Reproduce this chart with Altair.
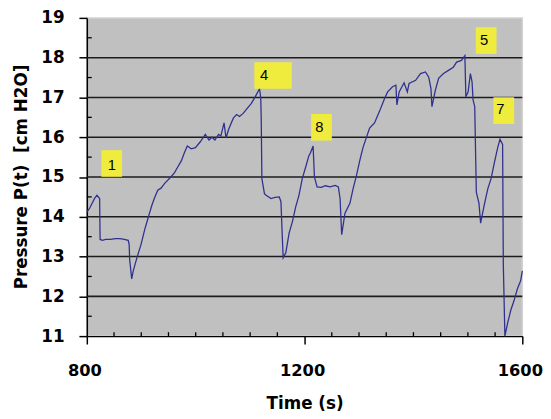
import altair as alt
import pandas as pd

# ---- data ----
time_s = [800, 805.4, 814.5, 818.6, 823.5, 824.4, 829, 834.4, 843.4, 852.5,
          861, 868.8, 876, 877.8, 878.7, 882.4, 885.1, 888.7, 894.1, 899.5,
          906.2, 910.4, 915.3, 919.5, 924.3, 930.3, 936.3, 943, 954.4, 961.1,
          966.5, 973.8, 979.2, 984.6, 991.9, 999.6, 1008.1, 1017.7, 1024.4, 1029.9,
          1035.3, 1042, 1046.2, 1052.1, 1055.7, 1060.6, 1069.1, 1075.1, 1080.5, 1087.2,
          1093.2, 1102.3, 1109.5, 1117.3, 1119.5, 1120.4, 1121.6, 1126.3, 1129.4, 1138.4,
          1145.7, 1153.5, 1156.6, 1159.3, 1160.7, 1165.6, 1171.6, 1177.7, 1183.7, 1189.7,
          1195.8, 1201.8, 1207.8, 1210.9, 1215.7, 1218.1, 1223, 1230.8, 1238, 1247.1,
          1256.1, 1262.1, 1265.2, 1268.2, 1274.2, 1283.3, 1289.2, 1295.4, 1301.4, 1307.3,
          1313.5, 1319.5, 1328.5, 1337.6, 1346.6, 1352.6, 1361.6, 1367.8, 1369.6, 1373.8,
          1382.8, 1388.8, 1391.9, 1404, 1413, 1422.1, 1428.1, 1432.2, 1434, 1440.2,
          1446.2, 1455.2, 1464.3, 1473.3, 1479.3, 1488.3, 1494.5, 1496.3, 1500.5, 1504.6,
          1507.7, 1509.5, 1512.6, 1515.5, 1520.4, 1523.4, 1530.7, 1536.7, 1542.6, 1548.8,
          1554.8, 1559, 1563.8, 1565.1, 1568, 1572.9, 1578.8, 1585, 1591, 1596.9, 1600]

pressure = [14.12, 14.22, 14.47, 14.54, 14.46, 13.43, 13.41, 13.43, 13.43, 13.45,
            13.45, 13.43, 13.41, 13.30, 12.93, 12.44, 12.63, 12.81, 13.06, 13.30,
            13.67, 13.87, 14.10, 14.29, 14.47, 14.67, 14.72, 14.84, 15.00, 15.11,
            15.24, 15.41, 15.61, 15.78, 15.71, 15.74, 15.88, 16.07, 15.93, 16.00,
            15.93, 16.07, 16.03, 16.36, 15.98, 16.20, 16.48, 16.57, 16.52, 16.60,
            16.70, 16.85, 17.02, 17.22, 16.99, 16.45, 14.96, 14.58, 14.54, 14.46,
            14.49, 14.50, 14.38, 13.43, 12.97, 13.10, 13.59, 13.88, 14.25, 14.54,
            14.96, 15.24, 15.53, 15.61, 15.78, 15.00, 14.75, 14.74, 14.78, 14.75,
            14.79, 14.75, 14.46, 13.55, 14.09, 14.34, 14.71, 15.04, 15.41, 15.74,
            15.99, 16.23, 16.36, 16.65, 16.96, 17.14, 17.27, 17.31, 16.81, 17.14,
            17.37, 17.14, 17.35, 17.43, 17.60, 17.64, 17.51, 17.22, 16.77, 17.18,
            17.48, 17.60, 17.68, 17.76, 17.89, 17.93, 18.05, 17.02, 17.14, 17.60,
            17.39, 16.94, 16.77, 14.62, 14.34, 13.84, 14.34, 14.71, 14.96, 15.37,
            15.74, 15.95, 15.82, 12.81, 11.00, 11.32, 11.65, 11.90, 12.19, 12.39, 12.64]

# annotation labels (box centres and text anchors, in data units)
labels = ["1", "4", "8", "5", "7"]
box_t = [845.8, 1142.1, 1231.1, 1533.6, 1566.0]
box_p = [15.34, 17.55, 16.25, 18.43, 16.67]
text_t = [845.8, 1125.8, 1227.1, 1529.8, 1559.8]
text_p = [15.31, 17.55, 16.26, 18.44, 16.70]

x_ticks = [800, 1200, 1600]
x_minor = [850, 900, 950, 1000, 1050, 1100, 1150, 1250, 1300, 1350, 1400, 1450, 1500, 1550]
y_ticks = [11, 12, 13, 14, 15, 16, 17, 18, 19]
y_minor = [11.5, 12.5, 13.5, 14.5, 15.5, 16.5, 17.5, 18.5]
grid_levels = [12, 13, 14, 15, 16, 17, 18]

# ---- chart ----
W, H = 442, 323
FONT = "DejaVu Sans"

line_df = pd.DataFrame({"t": time_s, "p": pressure})
box_df = pd.DataFrame({"label": labels, "t": box_t, "p": box_p})
text_df = pd.DataFrame({"label": labels, "t": text_t, "p": text_p})

xs = alt.Scale(domain=[800, 1600], nice=False, zero=False)
ys = alt.Scale(domain=[11, 19], nice=False, zero=False)

x_axis = alt.Axis(values=x_ticks, format="d", title="Time (s)",
                  titleFont=FONT, titleFontSize=17, titleFontWeight="bold", titleColor="black",
                  titleY=73.5, titleBaseline="alphabetic",
                  labelFont=FONT, labelFontSize=16.5, labelFontWeight="bold", labelColor="black",
                  labelBaseline="alphabetic", labelPadding=32, labelFlush=False, labelOffset=-2.5,
                  tickSize=8, tickWidth=1.5, tickColor="black",
                  domainColor="black", domainWidth=1.5, grid=False)
y_axis = alt.Axis(values=y_ticks, format="d", title="Pressure P(t)\u00a0 [cm H2O]",
                  titleFont=FONT, titleFontSize=17, titleFontWeight="bold", titleColor="black",
                  titleX=-61, titleY=161, titleBaseline="alphabetic", titleAlign="center",
                  labelFont=FONT, labelFontSize=17, labelFontWeight="bold", labelColor="black",
                  labelPadding=15,
                  tickSize=8, tickWidth=1.5, tickColor="black",
                  domainColor="black", domainWidth=1.5, grid=False)

X = lambda f: alt.X(f, scale=xs, axis=x_axis, title="Time (s)")
Y = lambda f: alt.Y(f, scale=ys, axis=y_axis, title="Pressure P(t)\u00a0 [cm H2O]")

line = alt.Chart(line_df).mark_line(color="#30318f", strokeWidth=1.3).encode(
    x=X("t:Q"), y=Y("p:Q"))

grid = alt.Chart(pd.DataFrame({"g": grid_levels})).mark_rule(
    color="#1c1c1c", strokeWidth=1.6).encode(
    y=Y("g:Q"), x=alt.value(0), x2=alt.value(W))

xminor = alt.Chart(pd.DataFrame({"m": x_minor})).mark_rule(
    color="black", strokeWidth=1.3).encode(
    x=X("m:Q"), y=alt.value(H - 4), y2=alt.value(H))

yminor = alt.Chart(pd.DataFrame({"m": y_minor})).mark_rule(
    color="black", strokeWidth=1.3).encode(
    y=Y("m:Q"), x=alt.value(0), x2=alt.value(5))

boxes_narrow = alt.Chart(box_df).transform_filter(alt.datum.label != "4").mark_rect(
    width=21, height=27, color="#f0ec3e").encode(x=X("t:Q"), y=Y("p:Q"))

boxes_wide = alt.Chart(box_df).transform_filter(alt.datum.label == "4").mark_rect(
    width=38, height=27, color="#f0ec3e").encode(x=X("t:Q"), y=Y("p:Q"))

texts = alt.Chart(text_df).mark_text(
    font="Liberation Sans", fontSize=15, color="black", align="center", baseline="middle").encode(
    x=X("t:Q"), y=Y("p:Q"), text="label:N")

chart = alt.layer(grid, xminor, yminor, line, boxes_narrow, boxes_wide, texts).properties(
    width=W, height=H,
    padding={"left": 80, "top": 7, "right": 21, "bottom": 76},
    autosize=alt.AutoSizeParams(type="none"),
    background="white",
).configure_view(fill="#c0c0c0", stroke="#d2d2d2", strokeWidth=1.5)

chart.save("out.html", embed_options={"renderer": "svg", "actions": False})
